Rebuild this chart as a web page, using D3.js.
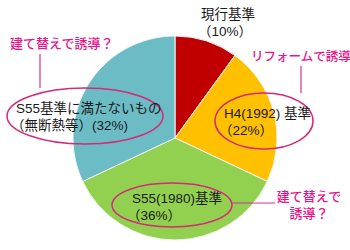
<!DOCTYPE html>
<html>
<head>
<meta charset="utf-8">
<script src="https://cdn.jsdelivr.net/npm/d3@7"></script>
<style>
  body { margin: 0; background: #fff; }
  text { font-family: "Liberation Sans", "Noto Sans CJK JP", sans-serif; }
</style>
</head>
<body>
<div id="chart"></div>
<script>
var w = 350;
var h = 250;
var cx = 175;
var cy = 138;
var radius = 102;

// slices, clockwise from 12 o'clock
var labels = ["現行基準", "H4(1992) 基準", "S55(1980)基準", "S55基準に満たないもの"];
var values = [10, 22, 36, 32];
var percentLabels = ["（10%）", "（22%）", "（36%）", "（無断熱等）(32%)"];
var colors = ["#c00000", "#ffc000", "#92d050", "#6cbcc6"];

// magenta callouts
var callouts = ["建て替えで誘導？", "リフォームで誘導", "建て替えで|誘導？"];

var svg = d3.select("#chart")
  .append("svg")
  .attr("width", w)
  .attr("height", h);

var pie = d3.pie().sort(null).value(function(d) { return d; });
var arc = d3.arc().innerRadius(0).outerRadius(radius);

var g = svg.append("g")
  .attr("transform", "translate(" + cx + "," + cy + ")");

g.selectAll("path")
  .data(pie(values))
  .enter().append("path")
  .attr("d", arc)
  .attr("fill", function(d, i) { return colors[i]; })
  .attr("stroke", "#f4f4f4")
  .attr("stroke-width", 1);

// label boxes (x, baseline of first line, second line x)
var labelPos = [
  {x: 201, y: 19, x2: 198, ell: null},
  {x: 224, y: 118, x2: 219, ell: [264, 121, 49, 28]},
  {x: 132, y: 203, x2: 127, ell: [172, 205, 60, 22]},
  {x: 16, y: 113, x2: 11, ell: [85, 116, 78, 28]}
];

var ellColor = "#d42a78";
var lineColor = "#d4309a";
var pink = "#e8148c";

labelPos.forEach(function(p, i) {
  if (p.ell) {
    svg.append("ellipse")
      .attr("cx", p.ell[0]).attr("cy", p.ell[1])
      .attr("rx", p.ell[2]).attr("ry", p.ell[3])
      .attr("fill", "none")
      .attr("stroke", ellColor)
      .attr("stroke-width", 1.5);
  }
  svg.append("text")
    .attr("x", p.x).attr("y", p.y)
    .attr("font-size", 13.5)
    .attr("fill", "#1a1a1a")
    .text(labels[i]);
  svg.append("text")
    .attr("x", p.x2).attr("y", p.y + 17)
    .attr("font-size", 13.5)
    .attr("fill", "#1a1a1a")
    .text(percentLabels[i]);
});

// connector lines
var lines = [
  [40, 54, 40, 88],
  [301, 66, 301, 93],
  [233, 203, 275, 203]
];
svg.selectAll("line.conn")
  .data(lines)
  .enter().append("line")
  .attr("class", "conn")
  .attr("x1", function(d) { return d[0]; })
  .attr("y1", function(d) { return d[1]; })
  .attr("x2", function(d) { return d[2]; })
  .attr("y2", function(d) { return d[3]; })
  .attr("stroke", lineColor)
  .attr("stroke-width", 1.2);

// callout texts
svg.append("text")
  .attr("x", 10).attr("y", 48)
  .attr("font-size", 13)
  .attr("font-weight", 500)
  .attr("fill", pink)
  .text(callouts[0]);

svg.append("text")
  .attr("x", 251).attr("y", 61)
  .attr("font-size", 12.5)
  .attr("font-weight", 500)
  .attr("fill", pink)
  .text(callouts[1]);

var right = svg.append("text")
  .attr("text-anchor", "middle")
  .attr("font-size", 13)
  .attr("font-weight", 500)
  .attr("fill", pink);
callouts[2].split("|").forEach(function(s, i) {
  right.append("tspan")
    .attr("x", 309)
    .attr("y", 201 + i * 17)
    .text(s);
});
</script>
</body>
</html>
